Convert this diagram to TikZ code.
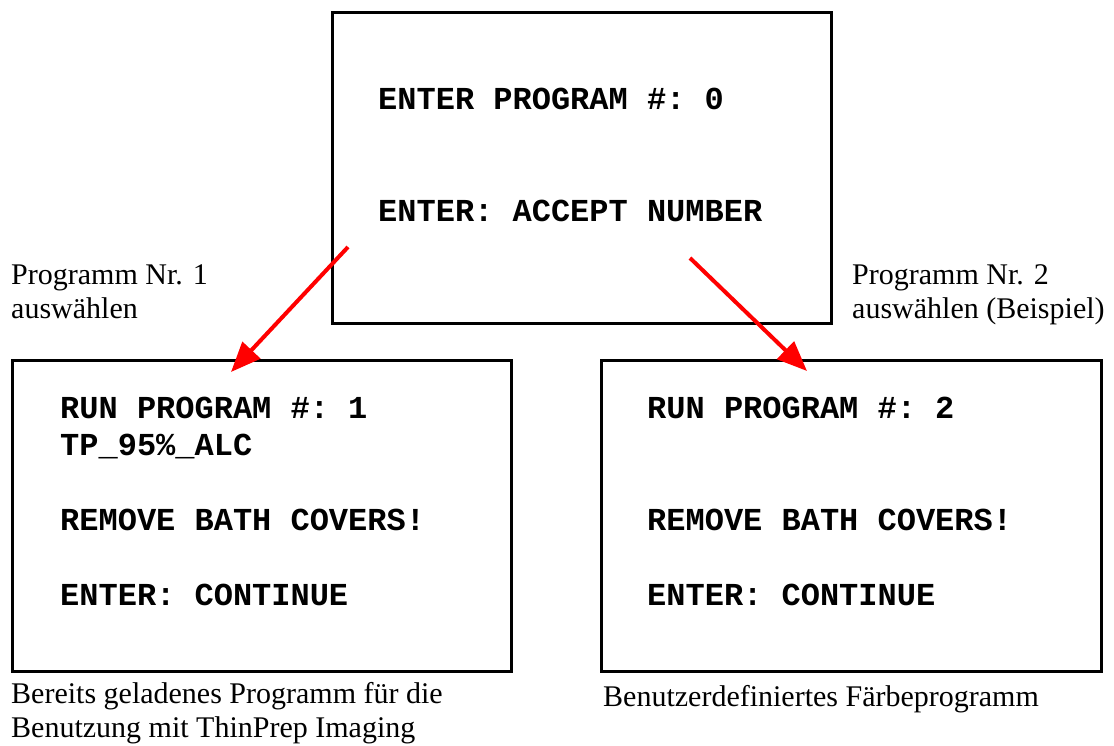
\documentclass[tikz,border=0pt]{standalone}
\usepackage{fontspec}
\setmainfont{Liberation Serif}
\setmonofont{Liberation Mono}
\usetikzlibrary{arrows.meta}
\begin{document}
\begin{tikzpicture}[x=1pt,y=-1pt,
  screen/.style={draw=black,line width=2.6pt,inner sep=0pt,anchor=north west},
  lcd/.style={anchor=base west,inner sep=0pt,font=\ttfamily\bfseries\fontsize{32}{32}\selectfont},
  lbl/.style={anchor=base west,inner sep=0pt,font=\fontsize{30}{35}\selectfont},
  redarrow/.style={draw=red,line width=4pt,-{Triangle[length=30pt,width=24pt]}}]
\useasboundingbox (0,0) rectangle (1114,746);
% boxes
\node[screen,minimum width=499pt,minimum height=311pt] (top) at (331,11) {};
\node[screen,minimum width=499pt,minimum height=311pt] (left) at (11,359) {};
\node[screen,minimum width=500pt,minimum height=311pt] (right) at (600,359) {};
% top box text
\node[lcd] (t1) at (378,110) {ENTER PROGRAM \#: 0};
\node[lcd] (t2) at (378,222) {ENTER: ACCEPT NUMBER};
% left box text
\node[lcd] (l1) at (60,418) {RUN PROGRAM \#: 1};
\node[lcd] (l2) at (60,455) {TP\_95\%\_ALC};
\node[lcd] (l3) at (60,530) {REMOVE BATH COVERS!};
\node[lcd] (l4) at (60,605) {ENTER: CONTINUE};
% right box text
\node[lcd] (r1) at (647,418) {RUN PROGRAM \#: 2};
\node[lcd] (r3) at (647,530) {REMOVE BATH COVERS!};
\node[lcd] (r4) at (647,605) {ENTER: CONTINUE};
% labels
\node[lbl] (a1) at (11,284) {Programm Nr. 1};
\node[lbl] (a2) at (11,318) {auswählen};
\node[lbl] (b1) at (852,284) {Programm Nr. 2};
\node[lbl] (b2) at (852,318) {auswählen (Beispiel)};
\node[lbl] (c1) at (11,703) {Bereits geladenes Programm für die};
\node[lbl] (c2) at (11,737) {Benutzung mit ThinPrep Imaging};
\node[lbl] (d1) at (603,706) {Benutzerdefiniertes Färbeprogramm};
% arrows
\coordinate (s1) at (348,247);
\coordinate (e1) at (231,372);
\coordinate (s2) at (690,258);
\coordinate (e2) at (807,371);
\draw[redarrow] (s1) -- (e1);
\draw[redarrow] (s2) -- (e2);
\end{tikzpicture}
\end{document}
